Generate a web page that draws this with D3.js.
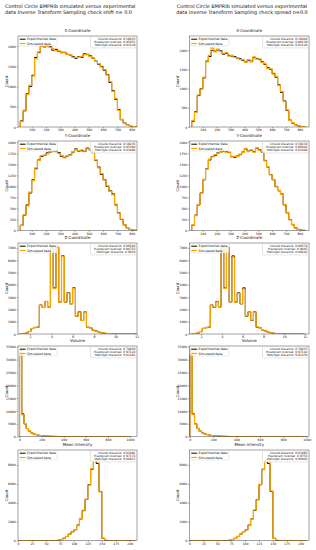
<!DOCTYPE html>
<html><head><meta charset="utf-8">
<script src="https://cdn.jsdelivr.net/npm/d3@7"></script>
<style>body{margin:0;background:#fff}svg{display:block}</style>
</head><body>
<svg id="c" width="316" height="550"></svg>
<script>
// ---------------- DATA ----------------
const panelTitles = ["X-Coordinate", "Y-Coordinate", "Z-Coordinate", "Volume", "Mean Intensity"];
const columnTitles = [
  ["Control Circle BMPRIb simulated versus experimental", "data Inverse Transform Sampling check shift n= 0.0"],
  ["Control Circle BMPRIb simulated versus experimental", "data inverse Transform Sampling check spread n=0.0"]
];
const legendLabels = ["Experimental data", "Simulated data"];

// bin layout per panel: [first edge, bin width]
const binLayout = [[20, 20], [20, 20], [1.05, 0.26], [0, 20], [0, 5]];

const xCoordExp = [150,400,820,1000,1280,1720,1840,2000,1980,2010,1990,1900,1920,1870,1850,1840,1800,1780,1740,1700,1740,1720,1810,1790,1760,1700,1630,1550,1500,1400,1300,1100,900,680,430,180,100,60,30,12,4];
const xCoordSimShift = [130,420,800,1030,1260,1690,1860,1990,2000,1990,1970,1930,1890,1880,1830,1850,1790,1790,1720,1720,1730,1740,1790,1800,1740,1710,1620,1570,1480,1420,1280,1120,880,700,410,190,95,55,32,10,3];
const xCoordSimSpread = [170,380,840,990,1300,1700,1870,2060,1960,2030,1970,1920,1940,1850,1870,1820,1810,1760,1760,1690,1760,1700,1830,1770,1780,1680,1650,1530,1520,1380,1320,1080,920,660,450,170,110,58,28,14,6];

const yCoordExp = [120,350,580,850,1150,1400,1600,1680,1700,1760,1780,1800,1790,1770,1680,1660,1690,1720,1780,1850,1800,1820,1790,1870,1830,1780,1590,1440,1270,1150,1000,900,830,580,400,250,130,60,25,8,2];
const yCoordSimShift = [110,360,560,870,1130,1420,1590,1700,1710,1740,1790,1790,1800,1750,1700,1650,1700,1710,1790,1830,1810,1800,1800,1850,1840,1760,1600,1420,1290,1140,1010,890,810,600,390,260,125,65,22,9,2];
const yCoordSimSpread = [130,340,590,840,1160,1390,1620,1670,1720,1750,1770,1810,1780,1780,1670,1680,1680,1730,1770,1860,1790,1830,1780,1880,1820,1790,1580,1450,1260,1160,990,910,820,590,410,240,140,55,28,7,3];

const zCoordExp = [20,40,80,200,450,520,560,2350,2150,2650,2200,7050,3750,7050,2600,6350,2600,3350,2450,3750,1450,1800,1100,1800,550,500,300,250,150,100,60,40,25,15,10,6,4,3,2,1,1,0];
const zCoordSimShift = [25,45,70,210,440,530,550,2330,2170,2630,2210,7050,3700,7050,2580,6300,2620,3330,2460,3700,1460,1780,1110,1790,560,490,310,240,155,95,62,38,26,14,10,5,4,3,1,1,1,0];
const zCoordSimSpread = [30,50,90,190,460,510,570,2320,2180,2610,2230,7050,3720,7050,2620,6250,2590,3300,2480,3650,1470,1790,1120,1770,570,490,310,240,160,100,65,40,27,16,11,7,4,3,2,2,1,1];

const volumeExp = [31800,8900,5000,3200,2200,1500,1100,800,600,450,350,280,220,180,140,110,90,75,60,50,40,32,26,21,17,14,12,10,8,7,6,5,4,4,3,3,2,2,2,1,1,1,1,1,1,0,0,1,0,0];
const volumeSimShift = [33600,8500,5100,3100,2250,1480,1120,790,610,440,355,275,225,175,142,108,92,73,61,49,41,31,27,20,18,13,12,9,8,7,6,5,4,3,3,3,2,2,1,1,1,1,1,1,0,1,0,0,0,0];
const volumeSimSpread = [33900,8600,4900,3250,2180,1520,1090,810,590,455,345,285,215,182,138,112,88,76,59,51,39,33,25,22,16,15,11,10,9,6,6,5,4,4,3,2,2,2,2,1,1,1,1,0,1,0,1,0,0,0];

const meanIntExp = [0,0,0,0,0,0,0,0,0,0,0,0,0,10,40,120,250,450,700,950,1150,1650,2300,3200,4350,5900,7550,8500,8150,5200,250,30,5,0,0,0,0,0,0,0,0,0];
const meanIntSimShift = [0,0,0,0,0,0,0,0,0,0,0,0,0,8,45,110,260,430,720,930,1170,1600,2350,3150,4400,5850,7600,8450,8450,5150,260,25,4,0,0,0,0,0,0,0,0,0];
const meanIntSimSpread = [0,0,0,0,0,0,0,0,0,0,0,0,0,12,38,125,240,460,690,960,1140,1600,2280,3250,4300,5950,7500,8500,8400,5250,240,35,6,0,0,0,0,0,0,0,0,0];

const expSeries = [xCoordExp, yCoordExp, zCoordExp, volumeExp, meanIntExp];
const simSeries = [
  [xCoordSimShift, yCoordSimShift, zCoordSimShift, volumeSimShift, meanIntSimShift],
  [xCoordSimSpread, yCoordSimSpread, zCoordSimSpread, volumeSimSpread, meanIntSimSpread]
];

// axis ranges [left column, right column]
const xDomains = [
  [[4, 837], [4, 866]],
  [[4, 837], [4, 866]],
  [[0.87, 12.03], [0.86, 12.4]],
  [[-14, 1063], [-3, 1020]],
  [[0, 213], [0, 215]]
];
const yDomains = [
  [[0, 2250], [0, 2375]],
  [[0, 2030], [0, 2030]],
  [[0, 7400], [0, 7400]],
  [[0, 35300], [0, 35300]],
  [[0, 9580], [0, 9580]]
];
const xTickValues = [
  [100,200,300,400,500,600,700,800],
  [100,200,300,400,500,600,700,800],
  [2,4,6,8,10,12],
  [0,200,400,600,800,1000],
  [0,25,50,75,100,125,150,175,200]
];
const yTickValues = [
  [0,500,1000,1500,2000],
  [0,250,500,750,1000,1250,1500,1750,2000],
  [0,1000,2000,3000,4000,5000,6000,7000],
  [0,5000,10000,15000,20000,25000,30000,35000],
  [0,2000,4000,6000,8000]
];
const cosineDist = [["0.18415","0.18235","0.00564","0.70603","0.01081"],["0.18464","0.18234","0.00574","0.70637","0.01085"]];
const histOverlap = [["0.95051","0.95394","0.96755","0.97124","0.97171"],["0.80139","0.80402","0.9665","0.97142","0.8753"]];
const hellinger = [["0.01129","0.01096","0.0056","0.01261","0.00917"],["0.01126","0.01094","0.00642","0.01254","0.00902"]];

// ---------------- LAYOUT ----------------
const FONT = "DejaVu Sans";
const ORANGE = "#FFA500";
const cols = [{left: 18, right: 137}, {left: 189.5, right: 309}];
const rows = [{top: 36, bottom: 127}, {top: 141, bottom: 230.5}, {top: 243, bottom: 334}, {top: 346, bottom: 436.7}, {top: 450, bottom: 540.7}];

const svg = d3.select("#c");
svg.append("rect").attr("width", 316).attr("height", 550).attr("fill", "#fff");

// main titles
columnTitles.forEach((lines, c) => {
  const t = svg.append("text").attr("font-family", FONT).attr("font-size", 4.9).attr("fill", "#111");
  lines.forEach((ln, i) => {
    const x = c === 0 ? 5 : 242;
    svg.append("text").attr("font-family", FONT).attr("font-size", 4.9).attr("fill", "#111")
      .attr("x", x).attr("y", 7.7 + i * 6.7)
      .attr("text-anchor", c === 0 ? "start" : "middle").text(ln);
  });
  t.remove();
});

function stepPoints(start, width, vals) {
  const pts = [[start, 0]];
  vals.forEach((v, i) => {
    pts.push([start + i * width, v]);
    pts.push([start + (i + 1) * width, v]);
  });
  pts.push([start + vals.length * width, 0]);
  return pts;
}

let clipId = 0;
for (let c = 0; c < 2; c++) {
  for (let r = 0; r < 5; r++) {
    const box = cols[c], row = rows[r];
    const x = d3.scaleLinear().domain(xDomains[r][c]).range([box.left, box.right]);
    const y = d3.scaleLinear().domain(yDomains[r][c]).range([row.bottom, row.top]);
    const g = svg.append("g");
    const id = "clip" + (clipId++);
    svg.append("clipPath").attr("id", id).append("rect")
      .attr("x", box.left).attr("y", row.top).attr("width", box.right - box.left).attr("height", row.bottom - row.top);

    // panel title
    g.append("text").attr("font-family", FONT).attr("font-size", 4.0).attr("fill", "#111")
      .attr("x", (box.left + box.right) / 2).attr("y", row.top - 3.6).attr("text-anchor", "middle").text(panelTitles[r]);

    // y label
    g.append("text").attr("font-family", FONT).attr("font-size", 3.9).attr("fill", "#111")
      .attr("transform", `translate(${box.left - 10.5},${(row.top + row.bottom) / 2}) rotate(-90)`)
      .attr("text-anchor", "middle").text("Count");

    const line = d3.line().x(d => x(d[0])).y(d => y(d[1]));
    const [bs, bw] = binLayout[r];
    const plot = g.append("g").attr("clip-path", `url(#${id})`);
    plot.append("path").attr("d", line(stepPoints(bs, bw, expSeries[r])))
      .attr("fill", "none").attr("stroke", "#000").attr("stroke-width", 1.0);
    plot.append("path").attr("d", line(stepPoints(bs, bw, simSeries[c][r])))
      .attr("fill", "none").attr("stroke", ORANGE).attr("stroke-width", 1.25);

    // axes
    const xAxis = d3.axisBottom(x).tickValues(xTickValues[r].filter(v => v >= x.domain()[0] && v <= x.domain()[1]))
      .tickSize(1.4).tickPadding(0.8).tickFormat(d3.format("d"));
    const gx = g.append("g").attr("transform", `translate(0,${row.bottom})`).call(xAxis);
    const yAxis = d3.axisLeft(y).tickValues(yTickValues[r]).tickSize(1.4).tickPadding(0.8).tickFormat(d3.format("d"));
    const gy = g.append("g").attr("transform", `translate(${box.left},0)`).call(yAxis);
    [gx, gy].forEach(a => {
      a.select(".domain").remove();
      a.selectAll("line").attr("stroke", "#333").attr("stroke-width", 0.4);
      a.selectAll("text").attr("font-family", FONT).attr("font-size", 3.1).attr("fill", "#111");
    });

    // frame
    g.append("rect").attr("x", box.left).attr("y", row.top).attr("width", box.right - box.left)
      .attr("height", row.bottom - row.top).attr("fill", "none").attr("stroke", "#444").attr("stroke-width", 0.5);

    // legend
    const lg = g.append("g");
    lg.append("rect").attr("x", box.left + 0.8).attr("y", row.top + 0.7).attr("width", 38.5).attr("height", 9.2)
      .attr("rx", 0.8).attr("fill", "#fff").attr("fill-opacity", 0.8).attr("stroke", "#ccc").attr("stroke-width", 0.4);
    legendLabels.forEach((lab, i) => {
      const cy = row.top + 3.2 + i * 4.3;
      lg.append("line").attr("x1", box.left + 1.8).attr("x2", box.left + 7.6).attr("y1", cy).attr("y2", cy)
        .attr("stroke", i === 0 ? "#000" : ORANGE).attr("stroke-width", i === 0 ? 1.0 : 1.25);
      lg.append("text").attr("font-family", FONT).attr("font-size", 3.15).attr("fill", "#111")
        .attr("x", box.left + 9).attr("y", cy + 1.1).text(lab);
    });

    // stats box
    const sg = g.append("g");
    sg.append("rect").attr("x", box.right - 46.5).attr("y", row.top + 0.7).attr("width", 45.8).attr("height", 11.2)
      .attr("rx", 1).attr("fill", "#fff").attr("fill-opacity", 0.8).attr("stroke", "#bbb").attr("stroke-width", 0.4);
    const statLines = [
      "Cosine distance: " + cosineDist[c][r],
      "Histogram overlap: " + histOverlap[c][r],
      "Hellinger distance: " + hellinger[c][r]
    ];
    statLines.forEach((s, i) => {
      sg.append("text").attr("font-family", FONT).attr("font-size", 2.95).attr("fill", "#111")
        .attr("x", box.right - 1.6).attr("y", row.top + 3.7 + i * 3.25).attr("text-anchor", "end").text(s);
    });
  }
}
</script>
</body></html>
